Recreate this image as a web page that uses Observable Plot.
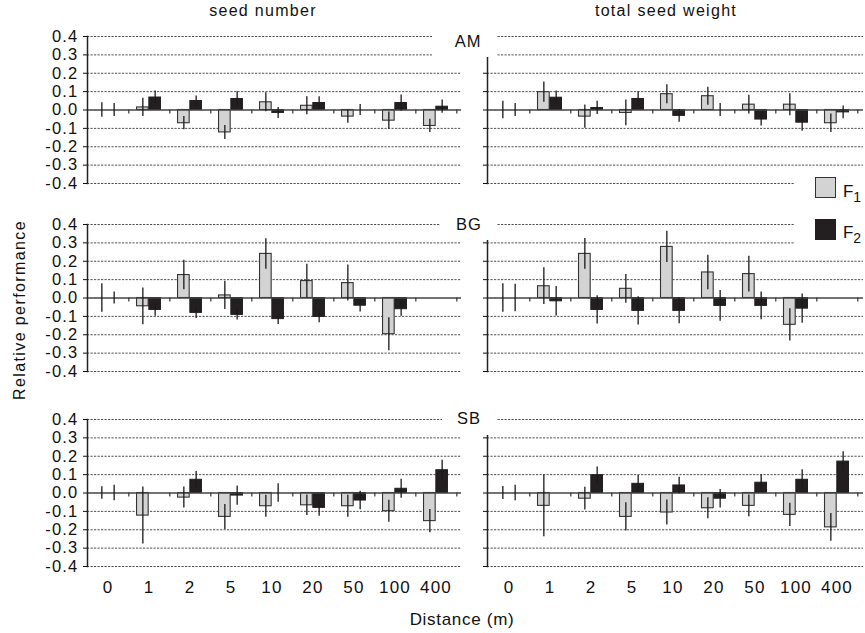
<!DOCTYPE html>
<html><head><meta charset="utf-8">
<script src="https://cdn.jsdelivr.net/npm/d3@7"></script>
<script src="https://cdn.jsdelivr.net/npm/@observablehq/plot@0.6"></script>
<style>
body{margin:0;background:#fff;}
#fig{position:relative;width:865px;height:633px;font-family:"Liberation Sans",Arial,sans-serif;color:#111;overflow:hidden;background:#fff;}
.t{position:absolute;transform:translate(-50%,-50%);white-space:nowrap;}
.box{position:absolute;background:#fff;}
</style></head><body><div id="fig"></div><script>
// ---- data ----
const distances = ["0","1","2","5","10","20","50","100","400"];
const sites = ["AM","BG","SB"];
const traits = ["seed number","total seed weight"];
const series = ["F1","F2"];
const yTicks = [-0.4,-0.3,-0.2,-0.1,0,0.1,0.2,0.3,0.4];

// seed number
const snAM_F1   = [0, 0.014, -0.072, -0.122, 0.042, 0.023, -0.036, -0.058, -0.087];
const snAM_F1se = [0.040, 0.050, 0.036, 0.038, 0.052, 0.049, 0.036, 0.047, 0.036];
const snAM_F2   = [0, 0.068, 0.049, 0.060, -0.016, 0.038, 0, 0.038, 0.018];
const snAM_F2se = [0.035, 0.036, 0.027, 0.040, 0.030, 0.034, 0.030, 0.043, 0.036];

const snBG_F1   = [0, -0.045, 0.125, 0.014, 0.240, 0.092, 0.081, -0.197, null];
const snBG_F1se = [0.077, 0.100, 0.080, 0.077, 0.083, 0.092, 0.098, 0.090, null];
const snBG_F2   = [0, -0.065, -0.081, -0.092, -0.115, -0.103, -0.042, -0.061, null];
const snBG_F2se = [0.033, 0.034, 0.031, 0.028, 0.029, 0.032, 0.034, 0.038, null];

const snSB_F1   = [0, -0.123, -0.025, -0.130, -0.072, -0.067, -0.072, -0.099, -0.153];
const snSB_F1se = [0.034, 0.155, 0.057, 0.068, 0.060, 0.056, 0.060, 0.060, 0.063];
const snSB_F2   = [0, null, 0.072, -0.014, 0, -0.081, -0.041, 0.023, 0.124];
const snSB_F2se = [0.042, null, 0.045, 0.052, 0.050, 0.045, 0.050, 0.052, 0.054];

// total seed weight
const swAM_F1   = [0, 0.097, -0.036, -0.016, 0.086, 0.075, 0.029, 0.029, -0.072];
const swAM_F1se = [0.047, 0.055, 0.063, 0.070, 0.052, 0.049, 0.051, 0.060, 0.050];
const swAM_F2   = [0, 0.067, 0.011, 0.060, -0.032, 0, -0.052, -0.069, -0.013];
const swAM_F2se = [0.036, 0.036, 0.036, 0.040, 0.035, 0.036, 0.035, 0.047, 0.035];

const swBG_F1   = [0, 0.064, 0.240, 0.050, 0.278, 0.139, 0.130, -0.146, null];
const swBG_F1se = [0.078, 0.100, 0.084, 0.078, 0.085, 0.094, 0.097, 0.088, null];
const swBG_F2   = [0, -0.018, -0.065, -0.070, -0.070, -0.043, -0.043, -0.058, null];
const swBG_F2se = [0.075, 0.080, 0.077, 0.077, 0.070, 0.084, 0.075, 0.080, null];

const swSB_F1   = [0, -0.070, -0.031, -0.130, -0.106, -0.083, -0.070, -0.119, -0.187];
const swSB_F1se = [0.036, 0.168, 0.062, 0.077, 0.068, 0.057, 0.059, 0.063, 0.076];
const swSB_F2   = [0, null, 0.097, 0.050, 0.041, -0.031, 0.056, 0.072, 0.171];
const swSB_F2se = [0.042, null, 0.045, 0.045, 0.045, 0.050, 0.043, 0.054, 0.054];

const panelData = [
  [[snAM_F1, snAM_F1se, snAM_F2, snAM_F2se], [swAM_F1, swAM_F1se, swAM_F2, swAM_F2se]],
  [[snBG_F1, snBG_F1se, snBG_F2, snBG_F2se], [swBG_F1, swBG_F1se, swBG_F2, swBG_F2se]],
  [[snSB_F1, snSB_F1se, snSB_F2, snSB_F2se], [swSB_F1, swSB_F1se, swSB_F2, swSB_F2se]]
];

// ---- styles / layout ----
const F1fill = "#d3d3d3", F2fill = "#231f20";
const fig = document.getElementById("fig");
const rowTop = [36, 224, 419];
const inner = 147;
const cols = [
  {left: 0, width: 461, ml: 87, range: [84, 459]},
  {left: 470, width: 393, ml: 17, range: [15.5, 390]}
];
const barW = 12.3;

function rows(v, se) {
  return distances.map((d, i) => ({d, v: v[i], se: se[i]})).filter(r => r.v != null);
}

sites.forEach((site, r) => {
  cols.forEach((c, ci) => {
    const [v1, s1, v2, s2] = panelData[r][ci];
    const d1 = rows(v1, s1), d2 = rows(v2, s2);
    const bw = (c.range[1] - c.range[0]) / distances.length;
    const bottom = r === 2;
    const mt = 8, mb = bottom ? 40 : 8;
    const marks = [
      Plot.ruleY(yTicks.filter(t => t !== 0), {stroke: "#222", strokeWidth: 0.8, strokeDasharray: "2.2,1.3"}),
      Plot.barY(d1.filter(e => e.v !== 0), {x: "d", y: "v", fill: F1fill, stroke: "#333", strokeWidth: 1.1,
        insetLeft: bw / 2 - barW, insetRight: bw / 2}),
      Plot.barY(d2.filter(e => e.v !== 0), {x: "d", y: "v", fill: F2fill, stroke: F2fill, strokeWidth: 1,
        insetLeft: bw / 2, insetRight: bw / 2 - barW}),
      Plot.ruleY([0], {stroke: "#444", strokeWidth: 1.6}),
      Plot.ruleX(distances, {x: d => d, y1: 0, y2: -0.022, dx: bw / 2, stroke: "#333", strokeWidth: 1.2}),
      Plot.ruleX(d1, {x: "d", y1: e => e.v - e.se, y2: e => e.v + e.se, dx: -barW / 2, stroke: "#1a1a1a", strokeWidth: 1.3}),
      Plot.ruleX(d2, {x: "d", y1: e => e.v - e.se, y2: e => e.v + e.se, dx: barW / 2, stroke: "#1a1a1a", strokeWidth: 1.3}),
      Plot.frame({anchor: "left", stroke: "#222", strokeWidth: 1.5}),
      Plot.axisY({ticks: yTicks, tickSize: 4, tickPadding: 5, fontSize: 16.5,
        tickFormat: ci === 0 ? (t => t.toFixed(1)) : (() => "")})
    ];
    if (bottom) marks.push(Plot.axisX({tickSize: 0, tickPadding: 14, fontSize: 17}));
    const svg = Plot.plot({
      width: c.width, height: mt + inner + mb,
      marginLeft: c.ml, marginRight: 0, marginTop: mt, marginBottom: mb,
      x: {type: "band", domain: distances, range: c.range, padding: 0, label: null, axis: bottom ? undefined : null},
      y: {domain: [-0.4, 0.4], label: null},
      style: {fontFamily: '"Liberation Sans", Arial, sans-serif', fontSize: "16px", letterSpacing: "1.2px",
        background: "transparent", overflow: "visible", color: "#111"},
      marks
    });
    svg.style.position = "absolute";
    svg.style.left = c.left + "px";
    svg.style.top = (rowTop[r] - mt) + "px";
    fig.appendChild(svg);
  });
});

function addText(txt, x, y, size, extra = "") {
  const el = document.createElement("div");
  el.className = "t";
  el.style.cssText = `left:${x}px;top:${y}px;font-size:${size}px;${extra}`;
  el.innerHTML = txt;
  fig.appendChild(el);
  return el;
}
function addBox(x, y, w, h, extra = "") {
  const el = document.createElement("div");
  el.className = "box";
  el.style.cssText = `left:${x}px;top:${y}px;width:${w}px;height:${h}px;${extra}`;
  fig.appendChild(el);
  return el;
}

// column titles
addText(traits[0], 263, 11, 16, "letter-spacing:1.3px;");
addText(traits[1], 666, 11, 16, "letter-spacing:1.3px;");

// row labels with white boxes
const labelBoxes = [[432, 27, 65, 30, 468, 40.5], [440, 213, 57, 27, 469, 224], [442, 408, 55, 27, 469, 418]];
sites.forEach((s, i) => {
  const b = labelBoxes[i];
  addBox(b[0], b[1], b[2], b[3]);
  addText(s, b[4], b[5], 16.5, "letter-spacing:1px;");
});

// legend
addBox(794, 171, 71, 76);
addBox(815, 177, 21, 21, `background:${F1fill};border:1.5px solid #333;box-sizing:border-box;`);
addBox(815, 219, 21, 21, `background:${F2fill};`);
addText('F<sub style="font-size:14px;vertical-align:-5px">1</sub>', 852, 193, 17);
addText('F<sub style="font-size:14px;vertical-align:-5px">2</sub>', 852, 234, 17);

// axis titles
addText("Relative performance", 20, 310, 16, "transform:translate(-50%,-50%) rotate(-90deg);letter-spacing:1.4px;");
addText("Distance (m)", 462, 620, 17, "letter-spacing:0.7px;");
</script></body></html>
